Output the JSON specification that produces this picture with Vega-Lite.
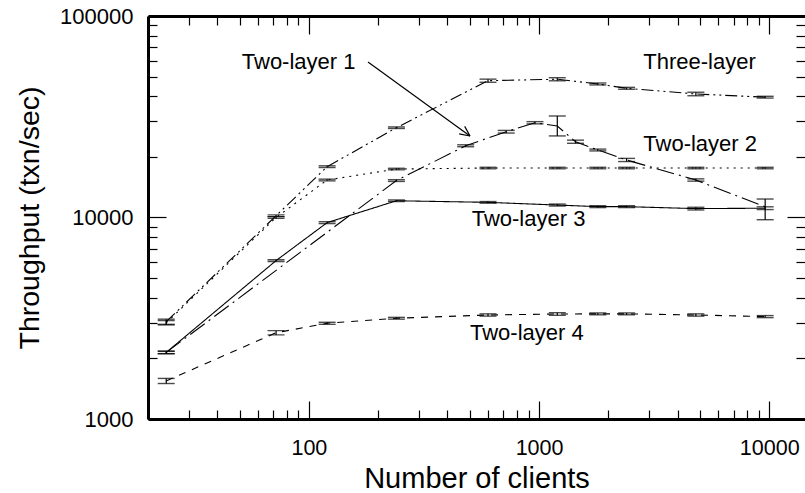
{
  "$schema": "https://vega.github.io/schema/vega-lite/v6.json",
  "width": 657,
  "height": 403,
  "autosize": "none",
  "padding": {"left": 148, "top": 16, "right": 0, "bottom": 74},
  "background": "white",
  "config": {"view": {"stroke": null}, "font": "Liberation Sans"},
  "datasets": {
    "pts": [
      {"s": "Three-layer", "x": 24, "y": 3040, "lo": 2950, "hi": 3130},
      {"s": "Three-layer", "x": 72, "y": 10200, "lo": 10100, "hi": 10300},
      {"s": "Three-layer", "x": 120, "y": 17870, "lo": 17700, "hi": 18050},
      {"s": "Three-layer", "x": 240, "y": 27900, "lo": 27650, "hi": 28150},
      {"s": "Three-layer", "x": 600, "y": 47750, "lo": 46900, "hi": 48600},
      {"s": "Three-layer", "x": 1200, "y": 48550, "lo": 47700, "hi": 49400},
      {"s": "Three-layer", "x": 1800, "y": 46000, "lo": 45500, "hi": 46500},
      {"s": "Three-layer", "x": 2400, "y": 43780, "lo": 43300, "hi": 44250},
      {"s": "Three-layer", "x": 4800, "y": 41030, "lo": 40200, "hi": 41850},
      {"s": "Three-layer", "x": 9600, "y": 39540, "lo": 39150, "hi": 39950},
      {"s": "Two-layer 1", "x": 24, "y": 2140, "lo": 2110, "hi": 2170},
      {"s": "Two-layer 1", "x": 240, "y": 15250, "lo": 15100, "hi": 15400},
      {"s": "Two-layer 1", "x": 480, "y": 22700, "lo": 22450, "hi": 22950},
      {"s": "Two-layer 1", "x": 720, "y": 26660, "lo": 26250, "hi": 27050},
      {"s": "Two-layer 1", "x": 960, "y": 29520, "lo": 29150, "hi": 29900},
      {"s": "Two-layer 1", "x": 1200, "y": 28440, "lo": 25400, "hi": 31900},
      {"s": "Two-layer 1", "x": 1440, "y": 23780, "lo": 23350, "hi": 24200},
      {"s": "Two-layer 1", "x": 1800, "y": 21630, "lo": 21400, "hi": 21850},
      {"s": "Two-layer 1", "x": 2400, "y": 19290, "lo": 18950, "hi": 19650},
      {"s": "Two-layer 1", "x": 4800, "y": 15350, "lo": 15150, "hi": 15550},
      {"s": "Two-layer 1", "x": 9600, "y": 11300, "lo": 9750, "hi": 12350},
      {"s": "Two-layer 2", "x": 24, "y": 3000, "lo": 2930, "hi": 3080},
      {"s": "Two-layer 2", "x": 72, "y": 10000, "lo": 9900, "hi": 10100},
      {"s": "Two-layer 2", "x": 120, "y": 15350, "lo": 15200, "hi": 15500},
      {"s": "Two-layer 2", "x": 240, "y": 17400, "lo": 17250, "hi": 17550},
      {"s": "Two-layer 2", "x": 600, "y": 17600, "lo": 17450, "hi": 17750},
      {"s": "Two-layer 2", "x": 1200, "y": 17600, "lo": 17450, "hi": 17750},
      {"s": "Two-layer 2", "x": 1800, "y": 17600, "lo": 17450, "hi": 17750},
      {"s": "Two-layer 2", "x": 2400, "y": 17600, "lo": 17450, "hi": 17750},
      {"s": "Two-layer 2", "x": 4800, "y": 17600, "lo": 17450, "hi": 17750},
      {"s": "Two-layer 2", "x": 9600, "y": 17600, "lo": 17450, "hi": 17750},
      {"s": "Two-layer 3", "x": 24, "y": 2140, "lo": 2110, "hi": 2170},
      {"s": "Two-layer 3", "x": 72, "y": 6110, "lo": 6050, "hi": 6170},
      {"s": "Two-layer 3", "x": 120, "y": 9430, "lo": 9330, "hi": 9530},
      {"s": "Two-layer 3", "x": 240, "y": 12110, "lo": 12000, "hi": 12220},
      {"s": "Two-layer 3", "x": 600, "y": 11890, "lo": 11780, "hi": 12000},
      {"s": "Two-layer 3", "x": 1200, "y": 11530, "lo": 11400, "hi": 11660},
      {"s": "Two-layer 3", "x": 1800, "y": 11320, "lo": 11200, "hi": 11440},
      {"s": "Two-layer 3", "x": 2400, "y": 11320, "lo": 11200, "hi": 11440},
      {"s": "Two-layer 3", "x": 4800, "y": 11070, "lo": 10900, "hi": 11240},
      {"s": "Two-layer 3", "x": 9600, "y": 11120, "lo": 10950, "hi": 11300},
      {"s": "Two-layer 4", "x": 24, "y": 1545, "lo": 1500, "hi": 1590},
      {"s": "Two-layer 4", "x": 72, "y": 2680, "lo": 2615, "hi": 2745},
      {"s": "Two-layer 4", "x": 120, "y": 2985, "lo": 2950, "hi": 3020},
      {"s": "Two-layer 4", "x": 240, "y": 3162, "lo": 3130, "hi": 3195},
      {"s": "Two-layer 4", "x": 600, "y": 3283, "lo": 3240, "hi": 3325},
      {"s": "Two-layer 4", "x": 1200, "y": 3320, "lo": 3270, "hi": 3370},
      {"s": "Two-layer 4", "x": 1800, "y": 3325, "lo": 3290, "hi": 3360},
      {"s": "Two-layer 4", "x": 2400, "y": 3325, "lo": 3290, "hi": 3360},
      {"s": "Two-layer 4", "x": 4800, "y": 3283, "lo": 3240, "hi": 3325},
      {"s": "Two-layer 4", "x": 9600, "y": 3222, "lo": 3185, "hi": 3260}
    ],
    "labels": [
      {"t": "Two-layer 1", "lx": 51.1, "ly": 54380},
      {"t": "Three-layer", "lx": 2837, "ly": 54380},
      {"t": "Two-layer 2", "lx": 2837, "ly": 21380},
      {"t": "Two-layer 3", "lx": 509.7, "ly": 9080},
      {"t": "Two-layer 4", "lx": 501, "ly": 2466}
    ],
    "arrow": [
      {"ax": 180.6, "ay": 59120, "bx": 501, "by": 25380},
      {"ax": 449.8, "ay": 25990, "bx": 501, "by": 25380},
      {"ax": 475.3, "ay": 28320, "bx": 501, "by": 25380}
    ]
  },
  "layer": [
    {
      "data": {"name": "pts"},
      "mark": {"type": "line", "color": "black", "strokeWidth": 1.1},
      "encoding": {
        "x": {
          "field": "x", "type": "quantitative",
          "scale": {"type": "log", "domain": [20, 14300], "nice": false},
          "axis": {
            "orient": "bottom",
            "title": "Number of clients",
            "values": [20, 30, 40, 50, 60, 70, 80, 90, 100, 200, 300, 400, 500, 600, 700, 800, 900, 1000, 2000, 3000, 4000, 5000, 6000, 7000, 8000, 9000, 10000],
            "format": "d",
            "labelExpr": "datum.value == 100 || datum.value == 1000 || datum.value == 10000 ? datum.label : ''",
            "labelFlush": false,
            "labelOverlap": false,
            "grid": false,
            "domainColor": "black", "domainWidth": 3,
            "tickColor": "black", "tickWidth": 1.2,
            "tickSize": {"condition": {"test": "datum.value == 100 || datum.value == 1000 || datum.value == 10000", "value": -18}, "value": -9},
            "labelFont": "Liberation Sans", "labelFontSize": 21.5, "labelColor": "black",
            "labelPadding": 36,
            "titleFont": "Liberation Sans", "titleFontSize": 29, "titleFontWeight": "normal", "titleColor": "black",
            "titlePadding": -3
          }
        },
        "y": {
          "field": "y", "type": "quantitative",
          "scale": {"type": "log", "domain": [1000, 100000], "nice": false},
          "axis": {
            "orient": "left",
            "title": "Throughput (txn/sec)",
            "values": [1000, 2000, 3000, 4000, 5000, 6000, 7000, 8000, 9000, 10000, 20000, 30000, 40000, 50000, 60000, 70000, 80000, 90000, 100000],
            "format": "d",
            "labelExpr": "datum.value == 1000 || datum.value == 10000 || datum.value == 100000 ? datum.label : ''",
            "labelFlush": false,
            "labelOverlap": false,
            "grid": false,
            "domainColor": "black", "domainWidth": 3,
            "tickColor": "black", "tickWidth": 1.2,
            "tickSize": {"condition": {"test": "datum.value == 1000 || datum.value == 10000 || datum.value == 100000", "value": -18}, "value": -9},
            "labelFont": "Liberation Sans", "labelFontSize": 22, "labelColor": "black",
            "labelPadding": 33,
            "titleFont": "Liberation Sans", "titleFontSize": 28.5, "titleFontWeight": "normal", "titleColor": "black",
            "titlePadding": 15
          }
        },
        "strokeDash": {
          "field": "s", "type": "nominal", "legend": null,
          "scale": {
            "domain": ["Three-layer", "Two-layer 1", "Two-layer 2", "Two-layer 3", "Two-layer 4"],
            "range": [[12, 4, 2, 4, 2, 4], [18, 5, 2, 5], [2, 5], [1, 0], [7, 7]]
          }
        }
      }
    },
    {
      "data": {"name": "pts"},
      "mark": {"type": "point", "opacity": 0},
      "encoding": {
        "x": {
          "field": "x", "type": "quantitative",
          "scale": {"type": "log", "domain": [20, 14300], "nice": false},
          "axis": {
            "orient": "top", "title": null, "labels": false,
            "values": [20, 30, 40, 50, 60, 70, 80, 90, 100, 200, 300, 400, 500, 600, 700, 800, 900, 1000, 2000, 3000, 4000, 5000, 6000, 7000, 8000, 9000, 10000],
            "grid": false,
            "domainColor": "black", "domainWidth": 3,
            "tickColor": "black", "tickWidth": 1.2,
            "tickSize": {"condition": {"test": "datum.value == 100 || datum.value == 1000 || datum.value == 10000", "value": -18}, "value": -9}
          }
        },
        "y": {
          "field": "y", "type": "quantitative",
          "scale": {"type": "log", "domain": [1000, 100000], "nice": false},
          "axis": {
            "orient": "right", "title": null, "labels": false, "domain": false,
            "values": [1000, 2000, 3000, 4000, 5000, 6000, 7000, 8000, 9000, 10000, 20000, 30000, 40000, 50000, 60000, 70000, 80000, 90000, 100000],
            "grid": false,
            "tickColor": "black", "tickWidth": 1.2,
            "tickSize": {"condition": {"test": "datum.value == 1000 || datum.value == 10000 || datum.value == 100000", "value": -18}, "value": -9}
          }
        }
      }
    },
    {
      "data": {"name": "pts"},
      "mark": {"type": "rule", "color": "black", "strokeWidth": 1.2},
      "encoding": {
        "x": {"field": "x", "type": "quantitative", "axis": null},
        "y": {"field": "lo", "type": "quantitative", "axis": null},
        "y2": {"field": "hi"}
      }
    },
    {
      "data": {"name": "pts"},
      "mark": {"type": "tick", "orient": "horizontal", "color": "black", "size": 17, "thickness": 1.4},
      "encoding": {
        "x": {"field": "x", "type": "quantitative", "axis": null},
        "y": {"field": "lo", "type": "quantitative", "axis": null}
      }
    },
    {
      "data": {"name": "pts"},
      "mark": {"type": "tick", "orient": "horizontal", "color": "black", "size": 17, "thickness": 1.4},
      "encoding": {
        "x": {"field": "x", "type": "quantitative", "axis": null},
        "y": {"field": "hi", "type": "quantitative", "axis": null}
      }
    },
    {
      "data": {"name": "labels"},
      "mark": {"type": "text", "align": "left", "baseline": "alphabetic", "font": "Liberation Sans", "fontSize": 22, "color": "black"},
      "encoding": {
        "x": {"field": "lx", "type": "quantitative", "axis": null},
        "y": {"field": "ly", "type": "quantitative", "axis": null},
        "text": {"field": "t"}
      }
    },
    {
      "data": {"name": "arrow"},
      "mark": {"type": "rule", "color": "black", "strokeWidth": 1.2},
      "encoding": {
        "x": {"field": "ax", "type": "quantitative", "axis": null},
        "y": {"field": "ay", "type": "quantitative", "axis": null},
        "x2": {"field": "bx"},
        "y2": {"field": "by"}
      }
    }
  ],
  "resolve": {"axis": {"x": "independent", "y": "independent"}}
}
